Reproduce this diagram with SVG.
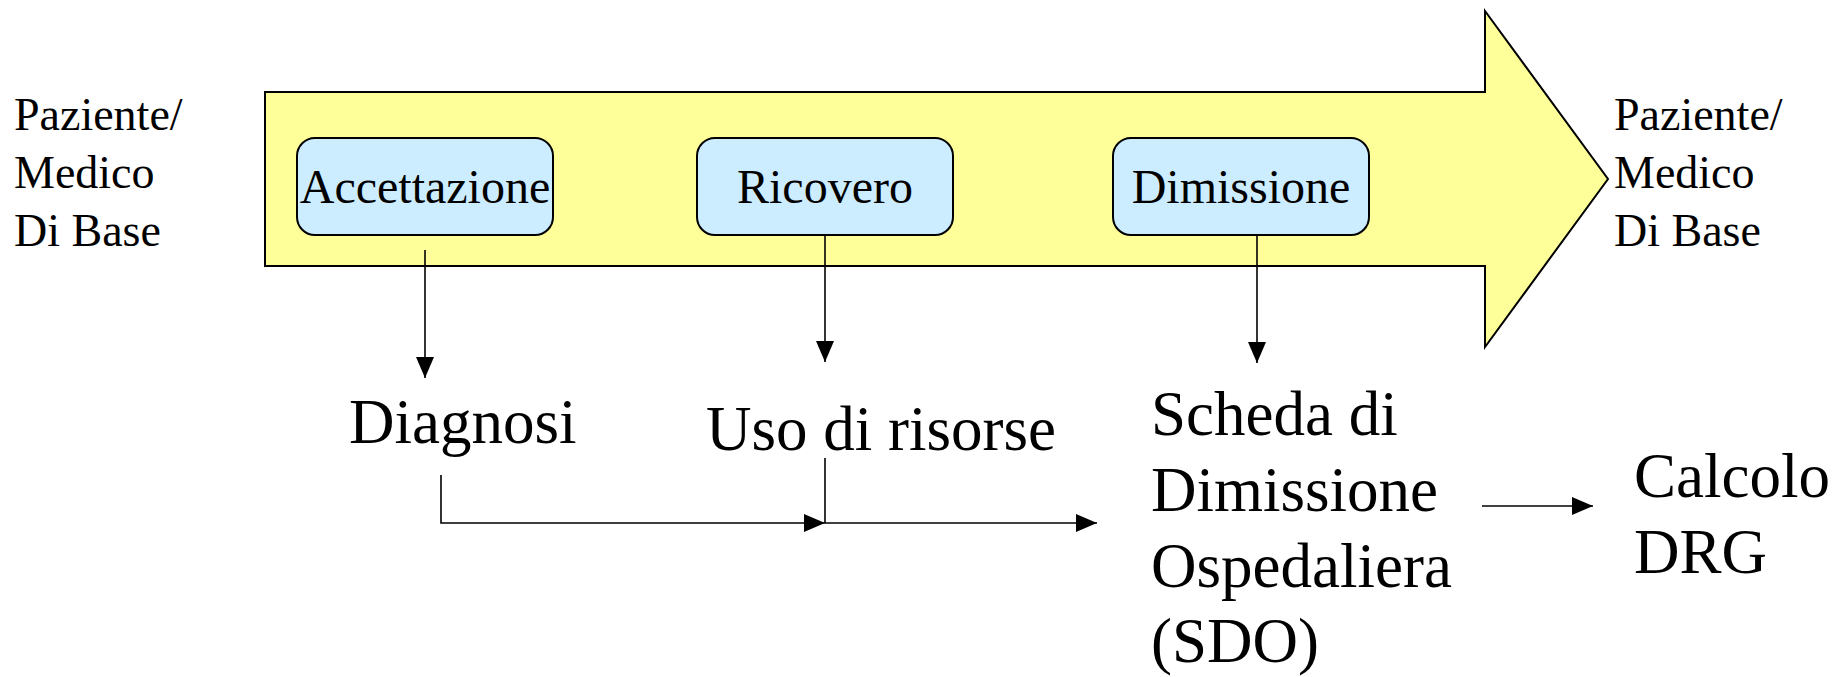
<svg xmlns="http://www.w3.org/2000/svg" width="1835" height="677" viewBox="0 0 1835 677">
<defs>
<style>
text{font-family:'Liberation Serif',Tinos,'Times New Roman',serif;fill:#000}
.s{font-size:46px}
.b{font-size:48px;text-anchor:middle}
.l{font-size:63px}
.box{fill:#CCECFF;stroke:#000;stroke-width:2}
.c{fill:none;stroke:#000;stroke-width:1.6}
</style>
<marker id="ah" markerUnits="userSpaceOnUse" markerWidth="22" markerHeight="18" refX="21" refY="9" orient="auto">
<path d="M0,0 L21,9 L0,18 Z" fill="#000"/>
</marker>
</defs>
<g id="flow-arrow">
<polygon points="265,92 1485,92 1485,11 1608,179 1485,347 1485,266 265,266" fill="#FFFF99" stroke="#000" stroke-width="2"/>
</g>
<g id="left-label">
<text class="s" x="14" y="130">Paziente/</text>
<text class="s" x="14" y="188">Medico</text>
<text class="s" x="14" y="246">Di Base</text>
</g>
<g id="right-label">
<text class="s" x="1614" y="130">Paziente/</text>
<text class="s" x="1614" y="188">Medico</text>
<text class="s" x="1614" y="246">Di Base</text>
</g>
<g id="accettazione">
<rect class="box" x="297" y="138" width="256" height="97" rx="18" ry="18"/>
<text class="b" x="425" y="203">Accettazione</text>
</g>
<g id="ricovero">
<rect class="box" x="697" y="138" width="256" height="97" rx="18" ry="18"/>
<text class="b" x="825" y="203">Ricovero</text>
</g>
<g id="dimissione">
<rect class="box" x="1113" y="138" width="256" height="97" rx="18" ry="18"/>
<text class="b" x="1241" y="203">Dimissione</text>
</g>
<g id="diagnosi">
<text class="l" x="349" y="443">Diagnosi</text>
</g>
<g id="uso-risorse">
<text class="l" x="706" y="450">Uso di risorse</text>
</g>
<g id="sdo">
<text class="l" x="1151" y="435">Scheda di</text>
<text class="l" x="1151" y="511">Dimissione</text>
<text class="l" x="1151" y="587">Ospedaliera</text>
<text class="l" x="1151" y="662">(SDO)</text>
</g>
<g id="calcolo-drg">
<text class="l" x="1634" y="497">Calcolo</text>
<text class="l" x="1634" y="573">DRG</text>
</g>
<g id="connectors">
<line class="c" x1="425" y1="250" x2="425" y2="378" marker-end="url(#ah)"/>
<line class="c" x1="825" y1="235" x2="825" y2="362" marker-end="url(#ah)"/>
<line class="c" x1="1257" y1="235" x2="1257" y2="363" marker-end="url(#ah)"/>
<polyline class="c" points="441,475 441,523 825,523" marker-end="url(#ah)"/>
<line class="c" x1="825" y1="458" x2="825" y2="523"/>
<line class="c" x1="825" y1="523" x2="1097" y2="523" marker-end="url(#ah)"/>
<line class="c" x1="1482" y1="506" x2="1593" y2="506" marker-end="url(#ah)"/>
</g>
</svg>
